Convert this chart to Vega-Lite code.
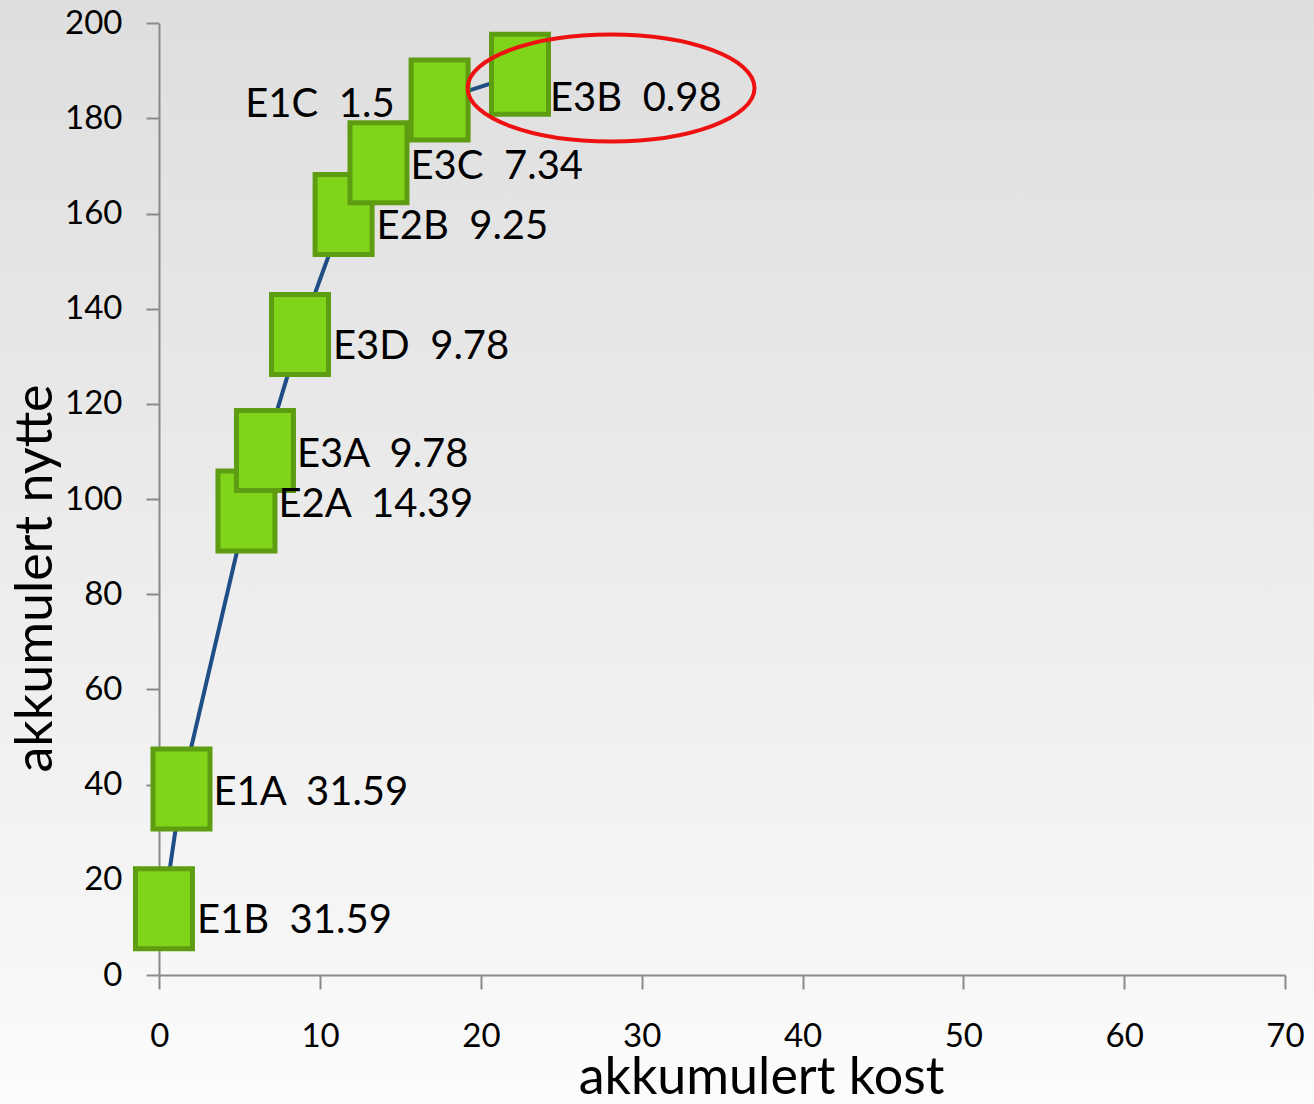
{
  "$schema": "https://vega.github.io/schema/vega-lite/v6.json",
  "autosize": {"type": "none"},
  "width": 1314,
  "height": 1104,
  "padding": 0,
  "background": "#fcfcfc",
  "config": {
    "view": {
      "stroke": null,
      "fill": {
        "gradient": "linear",
        "x1": 0, "y1": 0, "x2": 0, "y2": 1,
        "stops": [
          {"offset": 0, "color": "#dedede"},
          {"offset": 0.85, "color": "#f6f6f6"},
          {"offset": 1, "color": "#fcfcfc"}
        ]
      }
    },
    "axis": {
      "grid": false,
      "domainColor": "#8a8a8a",
      "domainWidth": 2,
      "tickColor": "#8a8a8a",
      "tickWidth": 2,
      "labelFont": "Lato",
      "labelFontSize": 33,
      "labelColor": "#000000",
      "titleFont": "Lato",
      "titleColor": "#000000",
      "titleFontWeight": "normal"
    }
  },
  "data": {
    "values": [
      {"tiltak": "E1B", "kost": 0.29, "nytte": 13.9, "forhold": 31.59},
      {"tiltak": "E1A", "kost": 1.38, "nytte": 39.1, "forhold": 31.59},
      {"tiltak": "E2A", "kost": 5.42, "nytte": 97.5, "forhold": 14.39},
      {"tiltak": "E3A", "kost": 6.57, "nytte": 110.2, "forhold": 9.78},
      {"tiltak": "E3D", "kost": 8.75, "nytte": 134.6, "forhold": 9.78},
      {"tiltak": "E2B", "kost": 11.46, "nytte": 159.8, "forhold": 9.25},
      {"tiltak": "E3C", "kost": 13.63, "nytte": 170.7, "forhold": 7.34},
      {"tiltak": "E1C", "kost": 17.43, "nytte": 183.9, "forhold": 1.5},
      {"tiltak": "E3B", "kost": 22.43, "nytte": 189.3, "forhold": 0.98}
    ]
  },
  "transform": [
    {"calculate": "datum.tiltak + '\u00a0\u00a0' + toString(datum.forhold)", "as": "etikett"}
  ],
  "encoding": {
    "x": {
      "field": "kost", "type": "quantitative",
      "scale": {"domain": [0, 70], "nice": false, "range": [159.3, 1285]},
      "axis": {
        "offset": -129,
        "values": [0, 10, 20, 30, 40, 50, 60, 70],
        "tickSize": 14,
        "labelPadding": 31,
        "labelBaseline": "top",
        "labelFlush": false,
        "title": "akkumulert kost",
        "titleFontSize": 52,
        "titleX": 761,
        "titleY": 118,
        "titleBaseline": "alphabetic",
        "titleAlign": "center"
      }
    },
    "y": {
      "field": "nytte", "type": "quantitative",
      "scale": {"domain": [0, 200], "nice": false, "range": [975, 23.3]},
      "axis": {
        "offset": -159,
        "values": [0, 20, 40, 60, 80, 100, 120, 140, 160, 180, 200],
        "tickSize": 13,
        "labelPadding": 24,
        "labelFlush": false,
        "title": "akkumulert nytte",
        "titleFontSize": 52,
        "titleAngle": 270,
        "titleX": -108,
        "titleY": 578,
        "titleBaseline": "alphabetic",
        "titleAlign": "center"
      }
    }
  },
  "layer": [
    {
      "mark": {"type": "line", "color": "#1f4e86", "strokeWidth": 4}
    },
    {
      "mark": {
        "type": "point",
        "shape": "M-0.7125,-1L0.7125,-1L0.7125,1L-0.7125,1Z",
        "size": 6400,
        "filled": true,
        "fill": "#80d41a",
        "stroke": "#5e9d12",
        "strokeWidth": 5,
        "opacity": 1
      }
    },
    {
      "transform": [{"filter": {"field": "tiltak", "oneOf": ["E1B", "E2B", "E3D"]}}],
      "mark": {"type": "text", "font": "Lato", "fontSize": 40, "align": "left", "baseline": "alphabetic", "dx": 33, "dy": 24, "color": "#000000"},
      "encoding": {"text": {"field": "etikett"}}
    },
    {
      "transform": [{"filter": {"field": "tiltak", "oneOf": ["E1A", "E3A", "E3C"]}}],
      "mark": {"type": "text", "font": "Lato", "fontSize": 40, "align": "left", "baseline": "alphabetic", "dx": 32, "dy": 16, "color": "#000000"},
      "encoding": {"text": {"field": "etikett"}}
    },
    {
      "transform": [{"filter": {"field": "tiltak", "equal": "E2A"}}],
      "mark": {"type": "text", "font": "Lato", "fontSize": 40, "align": "left", "baseline": "alphabetic", "dx": 32, "dy": 6, "color": "#000000"},
      "encoding": {"text": {"field": "etikett"}}
    },
    {
      "transform": [{"filter": {"field": "tiltak", "equal": "E3B"}}],
      "mark": {"type": "text", "font": "Lato", "fontSize": 40, "align": "left", "baseline": "alphabetic", "dx": 30, "dy": 37, "color": "#000000"},
      "encoding": {"text": {"field": "etikett"}}
    },
    {
      "transform": [{"filter": {"field": "tiltak", "equal": "E1C"}}],
      "mark": {"type": "text", "font": "Lato", "fontSize": 40, "align": "right", "baseline": "alphabetic", "dx": -45, "dy": 17, "color": "#000000"},
      "encoding": {"text": {"field": "etikett"}}
    },
    {
      "data": {"values": [{"kost": 28.09, "nytte": 186.4}]},
      "mark": {
        "type": "point",
        "shape": "M-1,0A1,0.373,0,1,1,1,0A1,0.373,0,1,1,-1,0Z",
        "size": 82369,
        "filled": false,
        "fill": null,
        "stroke": "#ee1111",
        "strokeWidth": 4,
        "opacity": 1
      }
    }
  ]
}
